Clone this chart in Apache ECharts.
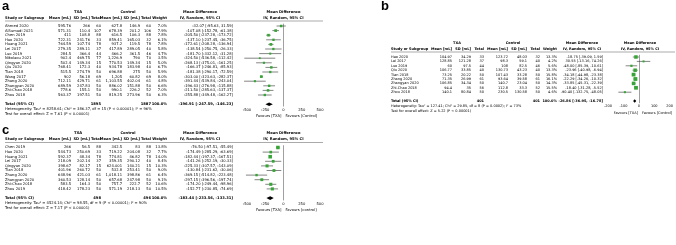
<!DOCTYPE html>
<html><head><meta charset="utf-8">
<script src="https://cdn.jsdelivr.net/npm/echarts/dist/echarts.min.js"></script>
<style>html,body{margin:0;padding:0;background:#fff}#c{width:676px;height:245px}</style>
</head><body><div id="c"></div>
<script>
// ---------- Panel a data ----------
const aStudy = ["Ahmed 2020","AlSumadi 2021","Chen 2019","Hao 2020","Huang 2021","Lei 2017","Luo 2019","Nikolaou 2021","Qingyan 2020","Qiu 2020","Tian 2018","Wang 2017","Zhang 2020","Zhangyan 2020","Zhi-Chao 2018","Zhou 2018"];
const aTxaMean = ["595.76","571.31","411","722.31","764.59","279.35","284.5","902.4","502.4","768.41","515.5","902","712.11","689.59","778.6","563.37"];
const aTxaSD = ["266","110.4","108.8","241.76","107.74","289.11","366.4","469.75","149.34","172.3","274.79","56.18","429.71","247.83","155.1","197.51"];
const aTxaN = ["60","107","88","33","78","37","44","77","15","40","50","69","61","50","50","50"];
const aCtlMean = ["627.8","678.39","616.5","859.41","937.2","417.89","466.2","1,226.9","770.53","934.78","696.88","1,205","1,103.55","886.02","990.1","819.25"];
const aCtlSD = ["146.9","201.2","106.3","165.03","119.5","289.05","361.5","790","149.34","183.98","275","60.82","402.04","151.88","226.2","273.96"];
const aCtlN = ["60","106","88","32","78","40","46","70","15","40","50","69","61","50","52","50"];
const aWeight = [7.0,7.9,7.8,6.1,7.8,5.8,4.7,3.5,5.0,6.7,5.9,8.0,4.8,6.6,7.0,6.3];
const aMD = [-32.07,-107.08,-205.50,-137.10,-172.61,-138.54,-181.70,-324.50,-268.13,-166.37,-181.38,-303.00,-391.44,-196.43,-211.50,-255.88];
const aLo = [-95.63,-152.78,-237.28,-237.45,-208.28,-250.75,-332.12,-536.58,-375.01,-246.81,-290.17,-323.63,-539.84,-276.98,-285.63,-349.48];
const aHi = [31.59,-61.38,-173.72,-36.75,-136.94,-26.33,-31.28,-112.42,-161.25,-85.93,-72.59,-282.37,-243.04,-115.88,-137.37,-162.27];
const aTotal = {txaN:"1895", ctlN:"1887", md:-196.91, lo:-247.59, hi:-146.23};
const aHet = "Heterogeneity: Tau\u00b2 = 8258.61; Chi\u00b2 = 386.37, df = 15 (P < 0.00001); I\u00b2 = 96%";
const aTest = "Test for overall effect: Z = 7.61 (P < 0.00001)";
const aTicks = ["-500","-250","0","250","500"];
const aFav = ["Favours [TXA]","Favours [Control]"];

// ---------- Panel b data ----------
const bStudy = ["Hao 2020","Lei 2017","Luo 2019","Qiu 2020","Tian 2018","Zhang 2020","Zhangyan 2020","Zhi-Chao 2018","Zhou 2018"];
const bTxaMean = ["104.97","128.85","60","106.77","73.25","71.35","106.85","94.4","140.1"];
const bTxaSD = ["34.29","121.28","97.5","33.85","20.22","26.99","34.34","35","80.84"];
const bTxaN = ["33","37","44","40","50","61","50","56","50"];
const bCtlMean = ["123.72","98.3","108","130.73","107.43","93.64","140.7","112.8","230.5"];
const bCtlSD = ["48.03","59.1","82.5","43.23","33.28","39.58","23.04","33.3","130.58"];
const bCtlN = ["32","40","46","40","50","61","50","52","50"];
const bWeight = [13.3,4.2,5.6,13.3,15.8,16.1,14.3,15.5,4.6];
const bMD = [-18.75,30.55,-48.00,-23.96,-34.18,-22.29,-33.85,-18.40,-90.40];
const bLo = [-39.09,-13.16,-85.39,-40.98,-44.98,-34.26,-45.31,-31.28,-132.75];
const bHi = [1.59,74.26,-10.61,-6.94,-23.38,-10.32,-22.39,-5.52,-48.05];
const bTotal = {txaN:"401", ctlN:"401", md:-26.86, lo:-36.95, hi:-16.78};
const bHet = "Heterogeneity: Tau\u00b2 = 127.41; Chi\u00b2 = 29.85, df = 8 (P = 0.0002); I\u00b2 = 73%";
const bTest = "Test for overall effect: Z = 5.22 (P < 0.00001)";
const bTicks = ["-200","-100","0","100","200"];
const bFav = ["Favours [TXA]","Favours [Control]"];

// ---------- Panel c data ----------
const cStudy = ["Chen 2019","Hao 2020","Huang 2021","Lei 2017","Qingyan 2020","Tian 2018","Zhang 2020","Zhangyan 2020","Zhi-Chao 2018","Zhou 2019"];
const cTxaMean = ["266","544.73","592.37","218.09","398.67","401.96","648.96","360.53","583.5","418.42"];
const cTxaSD = ["56.5","250.69","48.34","202.14","82.17","260.72","421.03","128.14","164.3","178.23"];
const cTxaN = ["88","33","78","37","15","50","61","50","50","50"];
const cCtlMean = ["342.5","719.22","774.81","359.35","624.001","532.8","1,018.11","657.68","757.7","571.19"];
const cCtlSD = ["83","204.08","46.82","290.12","140.21","253.41","398.86","247.98","222.7","218.13"];
const cCtlN = ["88","32","78","40","15","50","61","50","52","50"];
const cWeight = [13.8,7.7,14.0,8.4,10.3,9.0,6.4,9.1,10.6,10.5];
const cMD = [-76.50,-174.49,-182.44,-141.26,-225.33,-130.84,-369.15,-297.15,-174.20,-152.77];
const cLo = [-97.51,-285.29,-197.37,-252.19,-307.57,-231.62,-514.82,-396.56,-249.44,-230.85];
const cHi = [-55.49,-63.69,-167.51,-30.33,-143.09,-30.06,-223.48,-197.74,-98.96,-74.69];
const cTotal = {txaN:"498", ctlN:"496", md:-183.44, lo:-233.56, hi:-133.31};
const cHet = "Heterogeneity: Tau\u00b2 = 4524.14; Chi\u00b2 = 98.55, df = 9 (P < 0.00001); I\u00b2 = 90%";
const cTest = "Test for overall effect: Z = 7.17 (P < 0.00001)";
const cTicks = ["-500","-250","0","250","500"];
const cFav = ["Favours [TXA]","Favours [control]"];

// ---------- layout ----------
const FF = '"DejaVu Sans", sans-serif';
function fmt(v){ return v.toFixed(2); }
function ci(md, lo, hi){ return fmt(md) + ' [' + fmt(lo) + ', ' + fmt(hi) + ']'; }

const COLS_AC = {cols:[66, 85, 96, 117, 135, 146, 162, 228], txa:73, ctl:123, mdh:195};
const COLS_B  = {cols:[61, 80, 93, 117, 136, 149, 166, 212], txa:66, ctl:122, mdh:191};

const panels = [
  {label:'a', lx:2, ly:6, row0:26, rowH:4.6, fs:3.7, x0:5, L:COLS_AC, plotL:247, plotR:320, min:-500, max:500,
   study:aStudy, tm:aTxaMean, ts:aTxaSD, tn:aTxaN, cm:aCtlMean, cs:aCtlSD, cn:aCtlN, w:aWeight, md:aMD, lo:aLo, hi:aHi, tot:aTotal, het:aHet, test:aTest, ticks:aTicks, fav:aFav},
  {label:'b', lx:381, ly:6, row0:57, rowH:4.4, fs:3.5, x0:391, L:COLS_B, plotL:608, plotR:672, min:-200, max:200,
   study:bStudy, tm:bTxaMean, ts:bTxaSD, tn:bTxaN, cm:bCtlMean, cs:bCtlSD, cn:bCtlN, w:bWeight, md:bMD, lo:bLo, hi:bHi, tot:bTotal, het:bHet, test:bTest, ticks:bTicks, fav:bFav},
  {label:'c', lx:2, ly:130, row0:147.5, rowH:4.6, fs:3.7, x0:5, L:COLS_AC, plotL:247, plotR:320, min:-500, max:500,
   study:cStudy, tm:cTxaMean, ts:cTxaSD, tn:cTxaN, cm:cCtlMean, cs:cCtlSD, cn:cCtlN, w:cWeight, md:cMD, lo:cLo, hi:cHi, tot:cTotal, het:cHet, test:cTest, ticks:cTicks, fav:cFav}
];

const grid = [], xAxis = [], yAxis = [], series = [], gfx = [];
function txt(t, x, y, align, bold, size, fam){
  gfx.push({type:'text', x:x, y:y, silent:true,
    style:{text:t, textAlign:align||'left', textVerticalAlign:'middle', font:(bold?'bold ':'')+size+'px '+(fam||FF), fill:'#000'}});
}

panels.forEach((p, gi) => {
  const n = p.study.length;
  const C = p.L.cols;
  const FS = p.fs;
  const fnt = b => (b ? 'bold ' : '') + FS + 'px ' + FF;
  const cats = p.study.concat(['', 'Total (95% CI)']);
  const top = p.row0 - p.rowH/2;
  const H = p.rowH*(n+2);
  grid.push({left:p.plotL, top:top, width:p.plotR-p.plotL, height:H});
  xAxis.push({gridIndex:gi, type:'value', min:p.min, max:p.max, interval:(p.max-p.min)/4,
    axisLine:{lineStyle:{color:'#000', width:0.6}},
    axisTick:{length:1.3, lineStyle:{color:'#000', width:0.6}},
    axisLabel:{fontSize:FS, fontFamily:FF, color:'#000', margin:1.3, formatter:(v,i)=>p.ticks[i]},
    splitLine:{show:false}});
  yAxis.push({gridIndex:gi, type:'category', data:cats, inverse:true, show:false});

  const X = p.x0;
  const tableData = [];
  for (let i=0;i<n;i++) tableData.push([p.min, i]);
  tableData.push([p.min, n+1]);
  series.push({type:'custom', xAxisIndex:gi, yAxisIndex:gi, silent:true, clip:false, data:tableData,
    renderItem:(params, api) => {
      const i = params.dataIndex;
      const y = api.coord([p.min, api.value(1)])[1];
      let cells;
      if (i < n) {
        cells = [[p.study[i], X, 'left', false], [p.tm[i], X+C[0], 'right'], [p.ts[i], X+C[1], 'right'], [p.tn[i], X+C[2], 'right'],
          [p.cm[i], X+C[3], 'right'], [p.cs[i], X+C[4], 'right'], [p.cn[i], X+C[5], 'right'],
          [p.w[i].toFixed(1)+'%', X+C[6], 'right'], [ci(p.md[i], p.lo[i], p.hi[i]), X+C[7], 'right']];
      } else {
        cells = [['Total (95% CI)', X, 'left', true], [p.tot.txaN, X+C[2], 'right', true], [p.tot.ctlN, X+C[5], 'right', true],
          ['100.0%', X+C[6], 'right', true], [ci(p.tot.md, p.tot.lo, p.tot.hi), X+C[7], 'right', true]];
      }
      return {type:'group', children: cells.map(c => ({type:'text', silent:true,
        style:{text:c[0], x:c[1], y:y, textAlign:c[2], textVerticalAlign:'middle', font:fnt(c[3]), fill:'#000'}}))};
    }});

  const markData = [];
  for (let i=0;i<n;i++) markData.push([p.md[i], i, p.lo[i], p.hi[i], p.w[i]]);
  markData.push([p.tot.md, n+1, p.tot.lo, p.tot.hi, 100]);
  series.push({type:'custom', xAxisIndex:gi, yAxisIndex:gi, silent:true, clip:false, data:markData, z:5,
    renderItem:(params, api) => {
      const row = api.value(1);
      const c = api.coord([api.value(0), row]);
      const l = api.coord([api.value(2), row]);
      const h = api.coord([api.value(3), row]);
      if (params.dataIndex < n) {
        const s = 0.95*Math.sqrt(api.value(4));
        return {type:'group', children:[
          {type:'line', shape:{x1:l[0], y1:l[1], x2:h[0], y2:h[1]}, style:{stroke:'#333', lineWidth:0.6}},
          {type:'rect', shape:{x:c[0]-s/2, y:c[1]-s/2, width:s, height:s}, style:{fill:'#36a436'}}
        ]};
      }
      return {type:'polygon', shape:{points:[[l[0],l[1]],[c[0],c[1]-1.8],[h[0],h[1]],[c[0],c[1]+1.8]]}, style:{fill:'#000'}};
    },
    markLine:{silent:true, symbol:'none', label:{show:false}, lineStyle:{color:'#888', width:0.8, type:'solid'}, data:[{xAxis:0}]}
  });

  const yH1 = p.row0 - 14, yH2 = p.row0 - 8, yUL = p.row0 - 5;
  txt(p.label, p.lx, p.ly, 'left', true, 13, '"Liberation Sans", Arial, sans-serif');
  txt('TXA', X+p.L.txa, yH1, 'center', true, FS);
  txt('Control', X+p.L.ctl, yH1, 'center', true, FS);
  txt('Mean Difference', X+p.L.mdh, yH1, 'center', true, FS);
  txt('Mean Difference', (p.plotL+p.plotR)/2, yH1, 'center', true, FS);
  txt('Study or Subgroup', X, yH2, 'left', true, FS);
  txt('Mean [mL]', X+C[0], yH2, 'right', true, FS);
  txt('SD [mL]', X+C[1], yH2, 'right', true, FS);
  txt('Total', X+C[2], yH2, 'right', true, FS);
  txt('Mean [mL]', X+C[3], yH2, 'right', true, FS);
  txt('SD [mL]', X+C[4], yH2, 'right', true, FS);
  txt('Total', X+C[5], yH2, 'right', true, FS);
  txt('Weight', X+C[6], yH2, 'right', true, FS);
  txt('IV, Random, 95% CI', X+p.L.mdh, yH2, 'center', true, FS);
  txt('IV, Random, 95% CI', (p.plotL+p.plotR)/2, yH2, 'center', true, FS);
  gfx.push({type:'line', silent:true, shape:{x1:X, y1:yUL, x2:p.plotR+3, y2:yUL}, style:{stroke:'#555', lineWidth:0.5}});
  const yTot = p.row0 + p.rowH*(n+1);
  txt(p.het, X, yTot+5.2, 'left', false, FS);
  txt(p.test, X, yTot+9.6, 'left', false, FS);
  const x0px = p.plotL + (0 - p.min)/(p.max - p.min)*(p.plotR - p.plotL);
  const yF = top + H + 9.5;
  txt(p.fav[0], x0px-2, yF, 'right', false, FS);
  txt(p.fav[1], x0px+2, yF, 'left', false, FS);
});

const chart = echarts.init(document.getElementById('c'));
chart.setOption({animation:false, backgroundColor:'#fff', grid, xAxis, yAxis, series, graphic:{elements:gfx}});
</script>
</body></html>
